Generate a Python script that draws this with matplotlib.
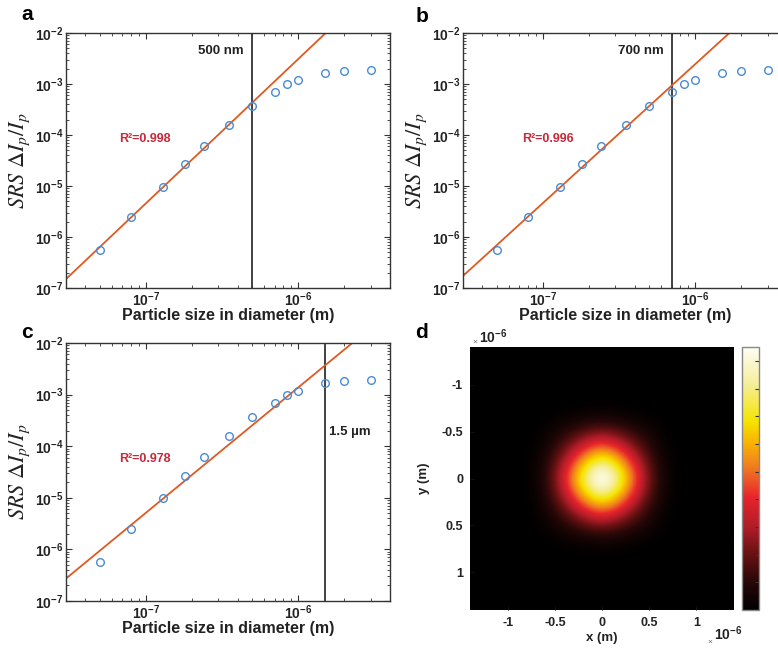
import numpy as np
import matplotlib.pyplot as plt
from matplotlib.colors import LinearSegmentedColormap
from matplotlib.ticker import LogLocator, NullFormatter, FuncFormatter

plt.rcParams['font.family'] = ['Liberation Sans', 'DejaVu Sans']
plt.rcParams['axes.labelweight'] = 'bold'
plt.rcParams['mathtext.fontset'] = 'custom'
plt.rcParams['mathtext.bf'] = 'Liberation Sans:bold'
plt.rcParams['mathtext.rm'] = 'Liberation Sans:bold'

# SRS signal vs particle diameter
diameter = np.array([50, 80, 130, 180, 240, 350, 500, 700, 850, 1000, 1500, 2000, 3000]) * 1e-9
srs = np.array([5.6e-7, 2.5e-6, 9.7e-6, 2.7e-5, 6.1e-5, 1.57e-4, 3.7e-4,
                6.9e-4, 1.0e-3, 1.2e-3, 1.67e-3, 1.82e-3, 1.9e-3])

# fit cutoff for each panel
cutoffs = [500e-9, 700e-9, 1.5e-6]
cutoff_labels = ['500 nm', '700 nm', '1.5 µm']
r2_labels = ['R²=0.998', 'R²=0.996', 'R²=0.978']
panel_names = ['a', 'b', 'c']

# focal spot profile along one axis, x = 0 ... 1.4 um in 0.1 um steps
spot_step = 0.1e-6
spot_profile = [1.0, 0.93, 0.78, 0.60, 0.42, 0.26, 0.13, 0.05, 0.015, 0.004,
                0.0, 0.0, 0.0, 0.0, 0.0]
spot_peak = 0.95
cbar_ticks = [0.1, 0.2, 0.3, 0.4, 0.5, 0.6, 0.7, 0.8, 0.9]

hot_colors = [(0.0, '#000000'), (0.11, '#2a0808'), (0.2, '#601010'), (0.316, '#b01c28'),
              (0.43, '#e8242c'), (0.544, '#f07c20'), (0.645, '#f9b800'), (0.72, '#f5e400'),
              (0.86, '#f5ee9a'), (1.0, '#fffdf5')]

W, H = 778, 649
fig = plt.figure(figsize=(W / 100, H / 100), dpi=100)


def box(l, t, r, b):
    return [l / W, 1 - b / H, (r - l) / W, (b - t) / H]


pos = [box(66, 33, 390, 288), box(463, 33, 787, 288), box(66, 343, 390, 601)]
label_xy = [(27, 14), (422, 16), (27, 332)]
txt_y = [4.4e-3, 4.4e-3, 1.9e-4]
txt_x = [4.4e-7, 6.2e-7, 1.59e-6]
txt_ha = ['right', 'right', 'left']
r2_xy = [(6.7e-8, 8.4e-5), (7.3e-8, 8.4e-5), (6.7e-8, 5.6e-5)]

dec = FuncFormatter(lambda v, p: r'$\mathbf{10^{%d}}$' % round(np.log10(v)))

for i in range(3):
    ax = fig.add_axes(pos[i])
    ax.set_xscale('log')
    ax.set_yscale('log')
    ax.set_xlim(3e-8, 4e-6)
    ax.set_ylim(1e-7, 1e-2)

    # power-law fit on the points below the cutoff
    sel = diameter <= cutoffs[i] * 1.01
    p = np.polyfit(np.log10(diameter[sel]), np.log10(srs[sel]), 1)
    xs = np.array(ax.get_xlim())
    ax.plot(xs, 10 ** np.polyval(p, np.log10(xs)), color='#de5a22', lw=1.3, zorder=2)

    ax.plot(diameter, srs, 'o', mfc='none', mec='#4a8bd2', ms=5.5, mew=1.0, zorder=3)
    ax.axvline(cutoffs[i], color='#333333', lw=1.3, zorder=1)

    ax.text(txt_x[i], txt_y[i], cutoff_labels[i], ha=txt_ha[i], va='center',
            fontsize=9.5, fontweight='bold', color='#222222')
    ax.text(r2_xy[i][0], r2_xy[i][1], r2_labels[i], ha='left', va='center',
            fontsize=9, fontweight='bold', color='#c8283a')

    ax.xaxis.set_major_locator(LogLocator(base=10, numticks=20))
    ax.yaxis.set_major_locator(LogLocator(base=10, numticks=20))
    ax.xaxis.set_minor_locator(LogLocator(base=10, subs=np.arange(2, 10), numticks=20))
    ax.yaxis.set_minor_locator(LogLocator(base=10, subs=np.arange(2, 10), numticks=20))
    ax.xaxis.set_major_formatter(dec)
    ax.yaxis.set_major_formatter(dec)
    ax.xaxis.set_minor_formatter(NullFormatter())
    ax.yaxis.set_minor_formatter(NullFormatter())
    ax.tick_params(which='both', direction='in', top=True, right=True,
                   colors='#333333', labelcolor='#222222', labelsize=10, pad=2)
    ax.tick_params(which='major', length=4, width=0.8)
    ax.tick_params(which='minor', length=2, width=0.6)
    for s in ax.spines.values():
        s.set_color('#333333')
        s.set_linewidth(1.0)

    ax.set_xlabel('Particle size in diameter (m)', fontsize=11.5, labelpad=-1, color='#222222')
    ax.set_ylabel(r'$SRS\ \Delta I_p/I_p$', fontsize=16, math_fontfamily='stix',
                  fontweight='normal', labelpad=2, color='#222222')
    fig.text(label_xy[i][0] / W, 1 - label_xy[i][1] / H, panel_names[i],
             fontsize=15, fontweight='bold', ha='center', va='center')

# panel d: focal spot intensity
half = np.array(spot_profile)
prof = np.concatenate([half[:0:-1], half])
field = np.outer(prof, prof) * spot_peak
n_half = len(spot_profile) - 1
lim = n_half * spot_step
cmap = LinearSegmentedColormap.from_list('spot', hot_colors)

axd = fig.add_axes(box(470, 347, 734, 610))
im = axd.imshow(field, cmap=cmap, vmin=0, vmax=spot_peak, aspect='auto',
                interpolation='bicubic', extent=[-lim, lim, lim, -lim])
axd.set_xlim(-lim, lim)
axd.set_ylim(lim, -lim)
um = [-1e-6, -0.5e-6, 0, 0.5e-6, 1e-6]
axd.set_xticks(um)
axd.set_yticks(um)
fmt = FuncFormatter(lambda v, p: '%g' % round(v / 1e-6, 2))
axd.xaxis.set_major_formatter(fmt)
axd.yaxis.set_major_formatter(fmt)
axd.tick_params(direction='in', length=3, color='#111111', labelsize=9,
                labelcolor='#222222', pad=5)
for lbl in axd.get_xticklabels() + axd.get_yticklabels():
    lbl.set_fontweight('bold')
for s in axd.spines.values():
    s.set_visible(False)
axd.set_xlabel('x (m)', fontsize=9.5, labelpad=2, color='#222222')
axd.set_ylabel('y (m)', fontsize=9.5, labelpad=8, color='#222222')
fig.text(422 / W, 1 - 332 / H, 'd', fontsize=15, fontweight='bold', ha='center', va='center')

# MATLAB-style exponent markers
fig.text(475 / W, 1 - 342 / H, '×', fontsize=6, color='#666666', ha='center', va='center')
fig.text(479 / W, 1 - 337 / H, r'$\mathbf{10^{-6}}$', fontsize=10, color='#222222',
         ha='left', va='center')
fig.text(710 / W, 1 - 642 / H, '×', fontsize=6, color='#666666', ha='center', va='center')
fig.text(714 / W, 1 - 634 / H, r'$\mathbf{10^{-6}}$', fontsize=10, color='#222222',
         ha='left', va='center')

cax = fig.add_axes(box(742, 347, 759, 610))
cb = fig.colorbar(im, cax=cax)
cb.set_ticks(cbar_ticks)
cb.set_ticklabels([''] * len(cbar_ticks))
cax.tick_params(direction='in', length=3, color='#333333', left=False, right=True)
cb.outline.set_edgecolor('#888888')
cb.outline.set_linewidth(1.0)

fig.savefig('out.png', dpi=100)
